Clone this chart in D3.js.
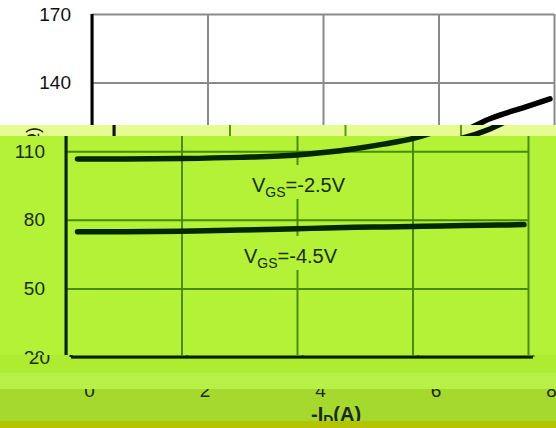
<!DOCTYPE html>
<html>
<head>
<meta charset="utf-8">
<script src="https://cdn.jsdelivr.net/npm/d3@7"></script>
<style>
  html, body { margin: 0; padding: 0; background: #fff; }
  svg { display: block; font-family: "Liberation Sans", Arial, sans-serif; }
</style>
</head>
<body>
<svg id="chart"></svg>
<script>
// data
const xTicks = [0, 2, 4, 6, 8]
const yTicks = [20, 50, 80, 110, 140, 170]
const drainCurrent = [0.2, 1, 2, 3, 4, 4.5, 5, 5.5, 6, 6.5, 6.9, 7.5, 7.93]
const rdsVgs25 = [106.6, 106.6, 106.8, 107.3, 108.3, 109.5, 111.1, 113.1, 115.5, 119.6, 124.3, 129.3, 132.9]
const rdsVgs45 = [74.8, 74.8, 75.0, 75.5, 76.1, 76.4, 76.7, 76.9, 77.1, 77.3, 77.5, 77.7, 77.9]

const width = 556
const height = 428

const svg = d3.select('#chart')
  .attr('width', width)
  .attr('height', height)

const x = d3.scaleLinear().domain([0, 8]).range([92, 554])
const y = d3.scaleLinear().domain([20, 170]).range([357, 14])

const white = { grid: '#8a8a8a', axis: '#000', curve: '#000', text: '#111' }
const light = { grid: '#5c9814', axis: '#111', curve: '#081800', text: '#1a2200' }
const lime = { grid: '#4a8a06', axis: '#062000', curve: '#032800', text: '#1b2a05' }

// the picture is a stack of horizontal strips, each one shifted and tinted
const strips = [
  { y0: 0, y1: 125, dx: 0, bg: '#ffffff', th: white },
  { y0: 125, y1: 136, dx: 22, bg: '#e6fb91', th: light },
  { y0: 136, y1: 355, dx: -26, bg: '#b4f237', th: lime },
  { y0: 355, y1: 373, dx: -21, bg: '#adec31', th: lime },
  { y0: 373, y1: 389, dx: 0, bg: '#b7f046', th: null },
  { y0: 389, y1: 421, dx: -3, bg: '#a6d92e', th: lime },
  { y0: 421, y1: 428, dx: 0, bg: '#b2c400', th: null }
]

const defs = svg.append('defs')

strips.forEach((s, i) => {
  defs.append('clipPath').attr('id', 'clip' + i)
    .append('rect')
    .attr('x', 0).attr('y', s.y0)
    .attr('width', width).attr('height', s.y1 - s.y0)

  const strip = svg.append('g').attr('clip-path', 'url(#clip' + i + ')')
  strip.append('rect')
    .attr('x', 0).attr('y', s.y0)
    .attr('width', width).attr('height', s.y1 - s.y0)
    .attr('fill', s.bg)

  if (s.th) {
    drawChart(strip.append('g').attr('transform', 'translate(' + s.dx + ',0)'), s.th, s.bg)
  }
})

function drawChart (g, th, bg) {
  // grid + tick labels
  g.append('g')
    .attr('transform', 'translate(' + x(0) + ',0)')
    .call(d3.axisLeft(y).tickValues(yTicks).tickSizeInner(-(x(8) - x(0))).tickSizeOuter(0).tickPadding(21))
    .call(a => a.select('.domain').remove())
    .call(a => a.selectAll('line').attr('stroke', th.grid).attr('stroke-width', 2))
    .call(a => a.selectAll('text')
      .attr('fill', th.text)
      .attr('font-size', 19)
      .attr('font-family', '"Liberation Sans", Arial, sans-serif'))

  g.append('g')
    .attr('transform', 'translate(0,' + y(20) + ')')
    .call(d3.axisBottom(x).tickValues(xTicks).tickSizeInner(-(y(20) - y(170))).tickSizeOuter(0))
    .call(a => a.select('.domain').remove())
    .call(a => a.selectAll('line').attr('stroke', th.grid).attr('stroke-width', 2))
    .call(a => a.selectAll('text')
      .attr('y', 40).attr('dy', 0)
      .attr('fill', th.text)
      .attr('font-size', 19)
      .attr('font-family', '"Liberation Sans", Arial, sans-serif'))

  // axis lines
  g.append('line')
    .attr('x1', x(0)).attr('x2', x(0))
    .attr('y1', y(170)).attr('y2', y(20))
    .attr('stroke', th.axis).attr('stroke-width', 3)
  g.append('line')
    .attr('x1', x(0)).attr('x2', x(8))
    .attr('y1', y(20)).attr('y2', y(20))
    .attr('stroke', th.axis).attr('stroke-width', 3)

  const line = d3.line()
    .x(d => x(d[0]))
    .y(d => y(d[1]))
    .curve(d3.curveMonotoneX)

  // curve labels sit on a box that hides the grid behind them
  const labels = [
    { name: '-2.5V', lx: 278, ly: 192 },
    { name: '-4.5V', lx: 270, ly: 263 }
  ]
  labels.forEach(l => {
    const box = g.append('rect').attr('fill', bg)
    const t = g.append('text')
      .attr('x', l.lx).attr('y', l.ly)
      .attr('fill', th.text)
      .attr('font-size', 20)
    t.append('tspan').text('V')
    t.append('tspan').attr('font-size', 14).attr('dy', 5).text('GS')
    t.append('tspan').attr('dy', -5).text('=' + l.name)
    const b = t.node().getBBox()
    box.attr('x', b.x - 4).attr('y', l.ly - 27)
      .attr('width', b.width + 8).attr('height', 34)
  })

  const series = [rdsVgs25, rdsVgs45]
  series.forEach(vals => {
    g.append('path')
      .datum(drainCurrent.map((c, i) => [c, vals[i]]))
      .attr('d', line)
      .attr('fill', 'none')
      .attr('stroke', th.curve)
      .attr('stroke-width', 5.5)
      .attr('stroke-linecap', 'round')
  })

  // y axis title
  const yt = g.append('text')
    .attr('transform', 'translate(17,127) rotate(-90)')
    .attr('text-anchor', 'end')
    .attr('fill', th.text)
    .attr('font-size', 18)
  yt.append('tspan').text('R')
  yt.append('tspan').attr('font-size', 12).attr('dy', 4).text('DS(ON)')
  yt.append('tspan').attr('dy', -4).text(' (m\u03a9)')

  // x axis title
  const xt = g.append('text')
    .attr('x', 314).attr('y', 421)
    .attr('fill', th.text)
    .attr('font-size', 20)
    .attr('font-weight', 'bold')
  xt.append('tspan').text('-I')
  xt.append('tspan').attr('font-size', 14).attr('dy', 4).text('D')
  xt.append('tspan').attr('dy', -4).text('(A)')
}
</script>
</body>
</html>
